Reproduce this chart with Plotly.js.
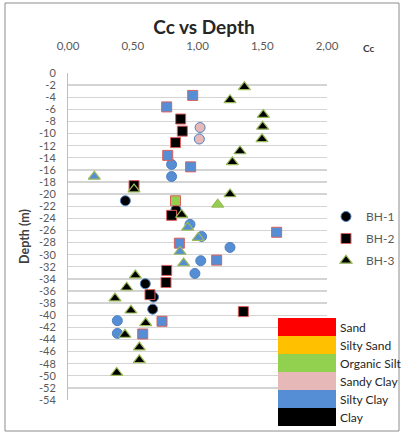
<!DOCTYPE html>
<html>
<head>
<meta charset="utf-8">
<script src="https://cdn.plot.ly/plotly-3.0.1.min.js"></script>
<style>html,body{margin:0;padding:0;background:#fff;}#chart{width:402px;height:434px;}</style>
</head>
<body>
<div id="chart"></div>
<script>
// Soil type colours
var soilNames = ['Sand', 'Silty Sand', 'Organic Silt', 'Sandy Clay', 'Silty Clay', 'Clay'];
var soilColors = {
  'Sand': '#ff0000',
  'Silty Sand': '#ffc000',
  'Organic Silt': '#92d050',
  'Sandy Clay': '#e6b9b8',
  'Silty Clay': '#558ed5',
  'Clay': '#000000'
};

// BH-1 (circles)
var bh1Cc    = [0.443, 1.020, 1.014, 0.800, 0.800, 0.834, 0.942, 1.032, 1.251, 1.025, 0.980, 0.597, 0.660, 0.654, 0.381, 0.381];
var bh1Depth = [-21.1, -9.0, -10.9, -15.1, -17.1, -22.6, -25.0, -27.0, -28.8, -31.0, -33.1, -34.8, -37.0, -39.0, -40.9, -43.0];
var bh1Soil  = ['Clay', 'Sandy Clay', 'Sandy Clay', 'Silty Clay', 'Silty Clay', 'Clay', 'Silty Clay', 'Silty Clay', 'Silty Clay', 'Silty Clay', 'Silty Clay', 'Clay', 'Clay', 'Clay', 'Silty Clay', 'Silty Clay'];

// BH-2 (squares)
var bh2Cc    = [0.870, 0.963, 0.762, 0.883, 0.830, 0.770, 0.947, 0.510, 0.830, 0.800, 1.611, 0.860, 1.148, 0.762, 0.757, 0.633, 1.354, 0.726, 0.577];
var bh2Depth = [-7.6, -3.7, -5.6, -9.6, -11.5, -13.6, -15.5, -18.6, -21.1, -23.5, -26.3, -28.1, -30.9, -32.6, -34.6, -36.6, -39.4, -41.0, -43.1];
var bh2Soil  = ['Clay', 'Silty Clay', 'Silty Clay', 'Clay', 'Clay', 'Silty Clay', 'Silty Clay', 'Clay', 'Organic Silt', 'Clay', 'Silty Clay', 'Silty Clay', 'Silty Clay', 'Clay', 'Clay', 'Clay', 'Clay', 'Silty Clay', 'Silty Clay'];

// BH-3 (triangles)
var bh3Cc    = [1.362, 1.251, 1.508, 1.503, 1.498, 1.328, 1.269, 0.203, 0.510, 1.251, 1.156, 0.878, 0.924, 1.006, 0.865, 0.893, 0.520, 0.453, 0.363, 0.486, 0.600, 0.440, 0.551, 0.551, 0.376];
var bh3Depth = [-2.3, -4.45, -6.9, -8.85, -10.9, -12.9, -14.7, -17.1, -19.2, -20.0, -21.7, -23.4, -25.5, -27.2, -29.5, -31.4, -33.4, -35.4, -37.2, -39.2, -41.3, -43.2, -45.3, -47.4, -49.5];
var bh3Soil  = ['Clay', 'Clay', 'Clay', 'Clay', 'Clay', 'Clay', 'Clay', 'Silty Clay', 'Clay', 'Clay', 'Organic Silt', 'Clay', 'Silty Clay', 'Silty Clay', 'Silty Clay', 'Silty Clay', 'Clay', 'Clay', 'Clay', 'Clay', 'Clay', 'Clay', 'Clay', 'Clay', 'Clay'];

// Axis ticks
var xTickVals = [0, 0.5, 1, 1.5, 2];
var xTickText = ['0,00', '0,50', '1,00', '1,50', '2,00'];
var yTickVals = [0, -2, -4, -6, -8, -10, -12, -14, -16, -18, -20, -22, -24, -26, -28, -30, -32, -34, -36, -38, -40, -42, -44, -46, -48, -50, -52, -54];
var yTickText = ['0', '-2', '-4', '-6', '-8', '-10', '-12', '-14', '-16', '-18', '-20', '-22', '-24', '-26', '-28', '-30', '-32', '-34', '-36', '-38', '-40', '-42', '-44', '-46', '-48', '-50', '-52', '-54'];

function colorsOf(list) { return list.map(function (s) { return soilColors[s]; }); }

var FONT = 'Lato, "Open Sans", sans-serif';

var traces = [
  { name: 'BH-1', x: bh1Cc, y: bh1Depth, type: 'scatter', mode: 'markers', legendgroup: 'g1',
    marker: { symbol: 'circle', size: 10, color: colorsOf(bh1Soil), line: { color: '#4f81bd', width: 1 } } },
  { name: 'BH-2', x: bh2Cc, y: bh2Depth, type: 'scatter', mode: 'markers', legendgroup: 'g2',
    marker: { symbol: 'square', size: 10, color: colorsOf(bh2Soil), line: { color: '#d9605e', width: 1 } } },
  { name: 'BH-3', x: bh3Cc, y: bh3Depth, type: 'scatter', mode: 'markers', legendgroup: 'g3',
    marker: { symbol: 'triangle-up', size: 10.5, color: colorsOf(bh3Soil), line: { color: '#9bbb59', width: 1.2 } } }
];

// pixel -> paper helpers (plot area 68..327 x, 73..400 y)
function px(x) { return (x - 68) / 259; }
function py(y) { return (400 - y) / 327; }

var shapes = [
  { type: 'rect', xref: 'paper', yref: 'paper', x0: px(5), x1: px(399), y0: py(431), y1: py(3),
    line: { color: '#8c8c8c', width: 1 }, fillcolor: 'rgba(0,0,0,0)', layer: 'below' }
];
var annotations = [
  { text: '<b>Cc</b>', xref: 'paper', yref: 'paper', x: px(377), y: py(40), showarrow: false,
    font: { family: FONT, size: 10, color: '#404040' } }
];
var boxTop = 318, boxH = 18;
soilNames.forEach(function (name, i) {
  var t = boxTop + i * boxH;
  shapes.push({ type: 'rect', xref: 'paper', yref: 'paper', x0: px(278), x1: px(336), y0: py(t + boxH), y1: py(t),
    line: { width: 0 }, fillcolor: soilColors[name], layer: 'above' });
  annotations.push({ text: name, xref: 'paper', yref: 'paper', x: px(338), y: py(t + boxH / 2),
    xanchor: 'left', yanchor: 'middle', showarrow: false, font: { family: FONT, size: 12, color: '#262626' } });
});

var layout = {
  width: 402, height: 434,
  margin: { l: 68, r: 75, t: 73, b: 34, autoexpand: false },
  paper_bgcolor: '#ffffff', plot_bgcolor: '#ffffff',
  font: { family: FONT, size: 11, color: '#595959' },
  title: { text: '<b>Cc vs Depth</b>', x: 204 / 402, xanchor: 'center', xref: 'container',
    y: 1 - 27 / 434, yanchor: 'middle', yref: 'container', font: { family: FONT, size: 19, color: '#262626' } },
  xaxis: { side: 'top', range: [0, 2], tickvals: xTickVals, ticktext: xTickText, showgrid: false,
    zeroline: false, showline: false, ticks: '', ticklabelstandoff: 20, fixedrange: true, automargin: false,
    tickfont: { family: FONT, size: 11.5, color: '#595959' } },
  yaxis: { range: [-54, 0], tickvals: yTickVals, ticktext: yTickText, showgrid: true, automargin: false,
    gridcolor: '#d4d4d4', gridwidth: 1.4, zeroline: false, showline: true, linecolor: '#bfbfbf', linewidth: 1,
    ticks: '', ticklabelstandoff: 9, fixedrange: true, tickfont: { family: FONT, size: 11, color: '#595959' },
    title: { text: '<b>Depth (m)</b>', standoff: 6, font: { family: FONT, size: 12.5, color: '#404040' } } },
  showlegend: true,
  legend: { x: px(326), y: py(202), xanchor: 'left', yanchor: 'top', bgcolor: 'rgba(0,0,0,0)',
    traceorder: 'grouped', tracegroupgap: 3, font: { family: FONT, size: 12, color: '#595959' } },
  shapes: shapes,
  annotations: annotations,
  hovermode: false
};

Plotly.newPlot('chart', traces, layout, { displayModeBar: false, staticPlot: true });
</script>
</body>
</html>
